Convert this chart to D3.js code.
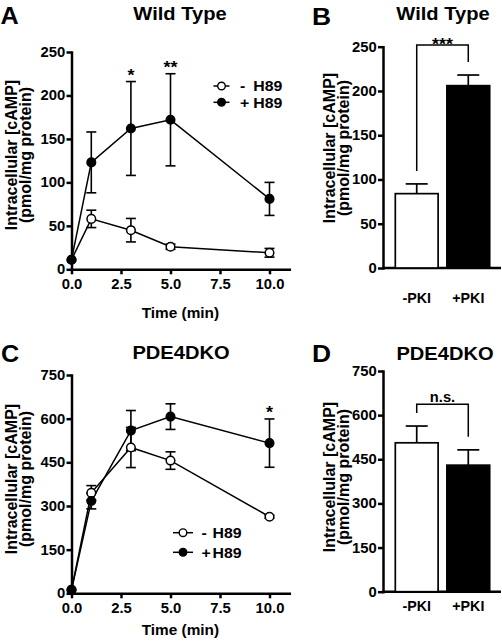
<!DOCTYPE html>
<html><head><meta charset="utf-8">
<script src="https://cdn.jsdelivr.net/npm/d3@7"></script>
<style>
body{margin:0;background:#fff}
svg{display:block}
</style>
</head><body>
<svg id="c" width="502" height="642"></svg>
<script>
// ---------------- DATA ----------------
const times = [0, 1, 3, 5, 10];
const xTicks = [0, 2.5, 5, 7.5, 10];

const wtMinusH89    = [11, 58, 45, 26, 19];
const wtMinusH89Err = [0, 10, 13.5, 3, 5];
const wtPlusH89     = [11, 123, 162, 172, 81];
const wtPlusH89Err  = [0, 35, 54, 53, 19];
const wtYTicks = [0, 50, 100, 150, 200, 250];

const koMinusH89    = [12, 345, 501, 456, 263];
const koMinusH89Err = [0, 25, 69, 30, 5];
const koPlusH89     = [12, 317, 559, 607, 516];
const koPlusH89Err  = [0, 27, 69, 44, 83];
const koYTicks = [0, 150, 300, 450, 600, 750];

const legendSigns = ["- ", "+"];
const drugName = "H89";

const wtStars = [{t: 3, label: "*"}, {t: 5, label: "**"}];
const koStars = [{t: 10, label: "*"}];

const pkiCategories = ["-PKI", "+PKI"];
const wtPKI    = [84, 206];
const wtPKIErr = [11, 12];
const koPKI    = [506, 430];
const koPKIErr = [57, 52];
const wtBracketValue = 252;
const koBracketValue = 637;
const wtBracketLabel = "***";
const koBracketLabel = "n.s.";

const yLabel1 = "Intracellular [cAMP]";
const yLabel2 = "(pmol/mg protein)";
const xLabel = "Time (min)";

// ---------------- HELPERS ----------------
const FONT = '"Liberation Sans", Arial, Helvetica, sans-serif';
const SX = 1.06;
const svg = d3.select("#c");

function txt(g, x, y, s, size, anchor = "middle", sx = SX) {
  return g.append("text")
    .attr("transform", `translate(${x},${y}) scale(${sx},1)`)
    .attr("text-anchor", anchor)
    .style("font-family", FONT).style("font-weight", "bold")
    .style("font-size", size + "px").attr("fill", "#000").text(s);
}
function vtxt(g, x, y, s, size) {
  return g.append("text")
    .attr("transform", `translate(${x},${y}) rotate(-90)`)
    .attr("text-anchor", "middle")
    .style("font-family", FONT).style("font-weight", "bold")
    .style("font-size", size + "px").attr("fill", "#000").text(s);
}
function styleAxis(a, fs) {
  a.select(".domain").attr("stroke", "#000").attr("stroke-width", 2.5).attr("stroke-linecap", "square");
  a.selectAll(".tick line").attr("stroke", "#000").attr("stroke-width", 2.5);
  a.selectAll(".tick text").style("font-family", FONT).style("font-weight", "bold")
    .style("font-size", fs + "px").attr("fill", "#000");
}
function yAxis(g, y, left, ticks) {
  const a = g.append("g").attr("transform", `translate(${left},0)`)
    .call(d3.axisLeft(y).tickValues(ticks).tickSize(5).tickSizeOuter(0).tickPadding(0).tickFormat(d3.format("d")));
  styleAxis(a, 14);
  a.selectAll(".tick text").attr("x", -6).attr("transform", `scale(${SX},1)`);
  return a;
}

// ---------------- LINE PANELS ----------------
function linePanel(o) {
  const g = svg.append("g");
  const x = d3.scaleLinear().domain([0, 11]).range([o.left, o.right]);
  const y = d3.scaleLinear().domain([0, o.yMax]).range([o.bottom, o.top]);

  const xa = g.append("g").attr("transform", `translate(0,${o.bottom})`)
    .call(d3.axisBottom(x).tickValues(xTicks).tickSize(5).tickSizeOuter(0).tickPadding(5).tickFormat(d3.format(".1f")));
  styleAxis(xa, 14);
  xa.selectAll(".tick text").attr("transform", `scale(${SX},1)`);
  yAxis(g, y, o.left, o.yTicks);

  const series = [
    {v: o.minus, e: o.minusErr, fill: "#fff"},
    {v: o.plus, e: o.plusErr, fill: "#000"}
  ];
  const line = d3.line().x(d => x(d.t)).y(d => y(d.v));
  series.forEach(s => {
    const pts = times.map((t, i) => ({t, v: s.v[i], e: s.e[i]}));
    g.append("path").datum(pts).attr("d", line).attr("fill", "none")
      .attr("stroke", "#000").attr("stroke-width", 1.5);
    const eb = g.append("g").selectAll("g").data(pts.filter(p => p.e > 0)).join("g");
    eb.append("line").attr("x1", d => x(d.t)).attr("x2", d => x(d.t))
      .attr("y1", d => y(d.v - d.e)).attr("y2", d => y(d.v + d.e));
    eb.append("line").attr("x1", d => x(d.t) - 5).attr("x2", d => x(d.t) + 5)
      .attr("y1", d => y(d.v - d.e)).attr("y2", d => y(d.v - d.e));
    eb.append("line").attr("x1", d => x(d.t) - 5).attr("x2", d => x(d.t) + 5)
      .attr("y1", d => y(d.v + d.e)).attr("y2", d => y(d.v + d.e));
    eb.selectAll("line").attr("stroke", "#000").attr("stroke-width", 1.6);
    s.pts = pts;
  });
  series.forEach(s => {
    g.append("g").selectAll("circle").data(s.pts).join("circle")
      .attr("cx", d => x(d.t)).attr("cy", d => y(d.v)).attr("r", 4.3)
      .attr("fill", s.fill).attr("stroke", "#000").attr("stroke-width", 1.5);
  });

  // significance stars
  o.stars.forEach(st => {
    const i = times.indexOf(st.t);
    const top = Math.max(o.plus[i] + o.plusErr[i], o.minus[i] + o.minusErr[i]);
    txt(g, x(st.t), y(top) - 1, st.label, 17);
  });

  // legend
  const L = o.legend;
  series.forEach((s, i) => {
    const ry = L.rows[i];
    g.append("line").attr("x1", L.x0).attr("x2", L.x1).attr("y1", ry).attr("y2", ry)
      .attr("stroke", "#000").attr("stroke-width", 1.5);
    g.append("circle").attr("cx", (L.x0 + L.x1) / 2).attr("cy", ry).attr("r", 3.8)
      .attr("fill", s.fill).attr("stroke", "#000").attr("stroke-width", 1.4);
    const t = g.append("text")
      .attr("transform", `translate(${L.tx},${ry + 5.3}) scale(${SX},1)`)
      .style("font-family", FONT).style("font-weight", "bold")
      .style("font-size", L.fs + "px").attr("fill", "#000");
    t.append("tspan").attr("x", 0).text(legendSigns[i]);
    t.append("tspan").attr("x", (L.hx - L.tx) / SX).text(drugName);
  });

  // axis titles
  txt(g, (o.left + o.right) / 2, o.xLabY, xLabel, 14.5, "middle", 1.06);
  vtxt(g, o.labX1, o.labY, yLabel1, 16);
  vtxt(g, o.labX2, o.labY, yLabel2, 16);
  // panel title + letter
  txt(g, o.titleX, o.titleY, o.title, 17.5, "middle", 1.15);
  txt(g, o.letterX, o.letterY, o.letter, 24, "start", 1.05);
}

linePanel({
  left: 71.5, right: 289.3, bottom: 269.3, top: 52, yMax: 250, yTicks: wtYTicks,
  minus: wtMinusH89, minusErr: wtMinusH89Err, plus: wtPlusH89, plusErr: wtPlusH89Err,
  stars: wtStars,
  legend: {x0: 213.5, x1: 229.5, rows: [86, 102.3], tx: 240, hx: 253.3, fs: 15},
  labX1: 16.5, labX2: 30.5, labY: 155, xLabY: 318,
  title: "Wild Type", titleX: 180, titleY: 19.5, letter: "A", letterX: 0.5, letterY: 24
});
linePanel({
  left: 71.5, right: 289.3, bottom: 593.3, top: 375, yMax: 750, yTicks: koYTicks,
  minus: koMinusH89, minusErr: koMinusH89Err, plus: koPlusH89, plusErr: koPlusH89Err,
  stars: koStars,
  legend: {x0: 173, x1: 193, rows: [532.7, 552.3], tx: 201.5, hx: 212.5, fs: 15},
  labX1: 16.5, labX2: 30.5, labY: 479, xLabY: 635,
  title: "PDE4DKO", titleX: 181, titleY: 358.5, letter: "C", letterX: 1, letterY: 361.5
});

// ---------------- BAR PANELS ----------------
function barPanel(o) {
  const g = svg.append("g");
  const x = d3.scaleBand().domain(pkiCategories).range([385, 500]).paddingInner(0.17).paddingOuter(0.2);
  const y = d3.scaleLinear().domain([0, o.yMax]).range([o.bottom, o.top]);
  yAxis(g, y, o.left, o.yTicks);
  g.append("line").attr("x1", o.left).attr("x2", 501).attr("y1", o.bottom).attr("y2", o.bottom)
    .attr("stroke", "#000").attr("stroke-width", 2.5);

  const data = pkiCategories.map((c, i) => ({c, v: o.vals[i], e: o.errs[i], fill: i === 0 ? "#fff" : "#000"}));
  // error bars (upper only)
  data.forEach(d => {
    const cx = x(d.c) + x.bandwidth() / 2;
    g.append("line").attr("x1", cx).attr("x2", cx).attr("y1", y(d.v)).attr("y2", y(d.v + d.e))
      .attr("stroke", "#000").attr("stroke-width", 1.7);
    g.append("line").attr("x1", cx - 11).attr("x2", cx + 11).attr("y1", y(d.v + d.e)).attr("y2", y(d.v + d.e))
      .attr("stroke", "#000").attr("stroke-width", 1.7);
  });
  g.selectAll("rect").data(data).join("rect")
    .attr("x", d => x(d.c)).attr("width", x.bandwidth())
    .attr("y", d => y(d.v)).attr("height", d => y(0) - y(d.v))
    .attr("fill", d => d.fill).attr("stroke", "#000").attr("stroke-width", 1.7);

  // bracket
  const by = y(o.bracket);
  const path = d3.path();
  const c0 = x(data[0].c) + x.bandwidth() / 2, c1 = x(data[1].c) + x.bandwidth() / 2;
  path.moveTo(c0, y(data[0].v + data[0].e) - 13);
  path.lineTo(c0, by); path.lineTo(c1, by);
  path.lineTo(c1, y(data[1].v + data[1].e) - 13);
  g.append("path").attr("d", path.toString()).attr("fill", "none").attr("stroke", "#000").attr("stroke-width", 1.5);
  txt(g, (c0 + c1) / 2, by + o.bracketDy, o.bracketLabel, o.bracketFs, "middle", 1.05);

  // x labels
  data.forEach(d => txt(g, x(d.c) + x.bandwidth() / 2, o.catY, d.c, 14, "middle", 1.02));
  vtxt(g, o.labX1, o.labY, yLabel1, 16);
  vtxt(g, o.labX2, o.labY, yLabel2, 16);
  txt(g, o.titleX, o.titleY, o.title, 17.5, "middle", 1.15);
  txt(g, 312, o.letterY, o.letter, 24, "start", 1.1);
}

barPanel({
  left: 383, bottom: 268, top: 46.7, yMax: 250, yTicks: wtYTicks,
  vals: wtPKI, errs: wtPKIErr, bracket: wtBracketValue, bracketLabel: wtBracketLabel, bracketDy: 5.5, bracketFs: 17,
  catY: 303, labX1: 335, labX2: 349, labY: 148,
  title: "Wild Type", titleX: 443, titleY: 20, letter: "B", letterY: 25
});
barPanel({
  left: 383, bottom: 591.7, top: 371, yMax: 750, yTicks: koYTicks,
  vals: koPKI, errs: koPKIErr, bracket: koBracketValue, bracketLabel: koBracketLabel, bracketDy: -2.5, bracketFs: 14,
  catY: 610.5, labX1: 335, labX2: 349, labY: 477,
  title: "PDE4DKO", titleX: 445, titleY: 359.5, letter: "D", letterY: 361.5
});
</script>
</body></html>
